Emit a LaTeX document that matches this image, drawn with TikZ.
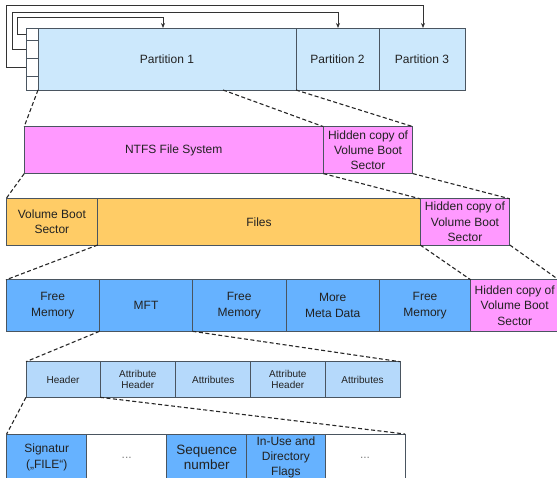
\documentclass[tikz,border=0pt]{standalone}
\usepackage{fontspec}
\setmainfont{Liberation Sans}
\usetikzlibrary{arrows.meta}

\definecolor{partblue}{HTML}{CCE8FC}
\definecolor{pink}{HTML}{FF99FF}
\definecolor{amber}{HTML}{FFCC66}
\definecolor{midblue}{HTML}{66B2FF}
\definecolor{paleblue}{HTML}{B5D9FB}
\definecolor{edge}{HTML}{4A5560}
\definecolor{ink}{HTML}{222222}

\newcommand\fsz[2]{\fontsize{#1}{#2}\selectfont}

\tikzset{
  cell/.style={draw=edge, line width=0.8pt, anchor=north west, inner sep=0pt,
               outer sep=0pt, align=center, text=ink},
  big/.style={font=\fsz{12}{15.3}},
  small/.style={font=\fsz{10}{11.7}},
  conn/.style={draw=black!80, line width=0.8pt, -{Stealth[length=5pt,width=4pt]}},
  zoomline/.style={draw=black!85, line width=1.1pt, dash pattern=on 4pt off 2.5pt},
}

\begin{document}
\begin{tikzpicture}[x=1pt,y=-1pt]
\useasboundingbox (0,0) rectangle (557,478);

% ---- partitions and partition table ----
\node[cell, big, fill=partblue, minimum width=258, minimum height=62] (p1) at (38,28) {Partition 1};
\node[cell, big, fill=partblue, minimum width=83, minimum height=62] (p2) at (296,28) {Partition 2};
\node[cell, big, fill=partblue, minimum width=86, minimum height=62] (p3) at (379,28) {Partition 3};
\node[cell, fill=white, minimum width=12, minimum height=12] (t1) at (26,28) {};
\node[cell, fill=white, minimum width=12, minimum height=18] (t2) at (26,40) {};
\node[cell, fill=white, minimum width=12, minimum height=18] (t3) at (26,58) {};
\node[cell, fill=white, minimum width=12, minimum height=14] (t4) at (26,76) {};

% table entries pointing at their partitions
\coordinate (b1) at (17,17);  \coordinate (a1) at (163,28);
\coordinate (b2) at (12,12);  \coordinate (a2) at (338,28);
\coordinate (b3) at (6,5);    \coordinate (a3) at (423,28);
\draw[conn] (t1.west) -| (b1) -| (a1);
\draw[conn] (t2.west) -| (b2) -| (a2);
\draw[conn] (t3.west) -| (b3) -| (a3);

% ---- NTFS volume ----
\node[cell, big, fill=pink, minimum width=299.1, minimum height=47] (ntfs) at (24.2,126.6) {NTFS File System};
\node[cell, big, fill=pink, minimum width=89.5, minimum height=47] (hid1) at (323.3,126.6) {Hidden copy of\\Volume Boot\\Sector};

% ---- boot sector and files ----
\node[cell, big, fill=amber, minimum width=91.7, minimum height=46.2] (vbs) at (6,198.8) {Volume Boot\\Sector};
\node[cell, big, fill=amber, minimum width=322.5, minimum height=46.2] (files) at (97.7,198.8) {Files};
\node[cell, big, fill=pink, minimum width=89.6, minimum height=46.2] (hid2) at (420.2,198.8) {Hidden copy of\\Volume Boot\\Sector};

% ---- file area layout ----
\node[cell, big, fill=midblue, minimum width=93.5, minimum height=51.5] (fm1) at (6,279.8) {Free\\Memory};
\node[cell, big, fill=midblue, minimum width=93, minimum height=51.5] (mft) at (99.5,279.8) {MFT};
\node[cell, big, fill=midblue, minimum width=93.5, minimum height=51.5] (fm2) at (192.5,279.8) {Free\\Memory};
\node[cell, big, fill=midblue, minimum width=93.4, minimum height=51.5] (meta) at (286,279.8) {More\\Meta Data};
\node[cell, big, fill=midblue, minimum width=91.3, minimum height=51.5] (fm3) at (379.4,279.8) {Free\\Memory};
\node[cell, big, fill=pink, minimum width=88, minimum height=51.5] (hid3) at (470.7,279.8) {Hidden copy of\\Volume Boot\\Sector};

% ---- MFT record ----
\node[cell, small, fill=paleblue, minimum width=74, minimum height=35.6] (hdr) at (26,361.7) {Header};
\node[cell, small, fill=paleblue, minimum width=75.7, minimum height=35.6] (ah1) at (100,361.7) {Attribute\\Header};
\node[cell, small, fill=paleblue, minimum width=75, minimum height=35.6] (at1) at (175.7,361.7) {Attributes};
\node[cell, small, fill=paleblue, minimum width=74.3, minimum height=35.6] (ah2) at (250.7,361.7) {Attribute\\Header};
\node[cell, small, fill=paleblue, minimum width=75, minimum height=35.6] (at2) at (325,361.7) {Attributes};

% ---- record header fields ----
\node[cell, big, fill=midblue, minimum width=80, minimum height=47] (sig) at (6.7,434) {Signatur\\(„FILE“)};
\node[cell, big, fill=white, text=gray, minimum width=80, minimum height=47] (dots1) at (86.7,434) {...};
\node[cell, fill=midblue, font=\fsz{13.5}{15.5}, minimum width=80, minimum height=47] (seq) at (166.7,434) {Sequence\\number};
\node[cell, big, fill=midblue, minimum width=78.3, minimum height=47] (flags) at (246.7,434) {In-Use and\\Directory\\Flags};
\node[cell, big, fill=white, text=gray, minimum width=80, minimum height=47] (dots2) at (325,434) {...};

% ---- zoom-in guides ----
\coordinate (p1cut) at (223,90);
\draw[zoomline] (p1.south west) -- (ntfs.north west);
\draw[zoomline] (p1cut) -- (ntfs.north east);
\draw[zoomline] (p1.south east) -- (hid1.north east);

\draw[zoomline] (ntfs.south west) -- (vbs.north west);
\draw[zoomline] (ntfs.south east) -- (hid2.north west);
\draw[zoomline] (hid1.south east) -- (hid2.north east);

\draw[zoomline] (vbs.south east) -- (fm1.north west);
\draw[zoomline] (files.south east) -- (hid3.north west);
\draw[zoomline] (hid2.south east) -- (hid3.north east);

\draw[zoomline] (mft.south west) -- (hdr.north west);
\draw[zoomline] (mft.south east) -- (at2.north east);

\draw[zoomline] (hdr.south west) -- (sig.north west);
\draw[zoomline] (hdr.south east) -- (dots2.north east);
\end{tikzpicture}
\end{document}
